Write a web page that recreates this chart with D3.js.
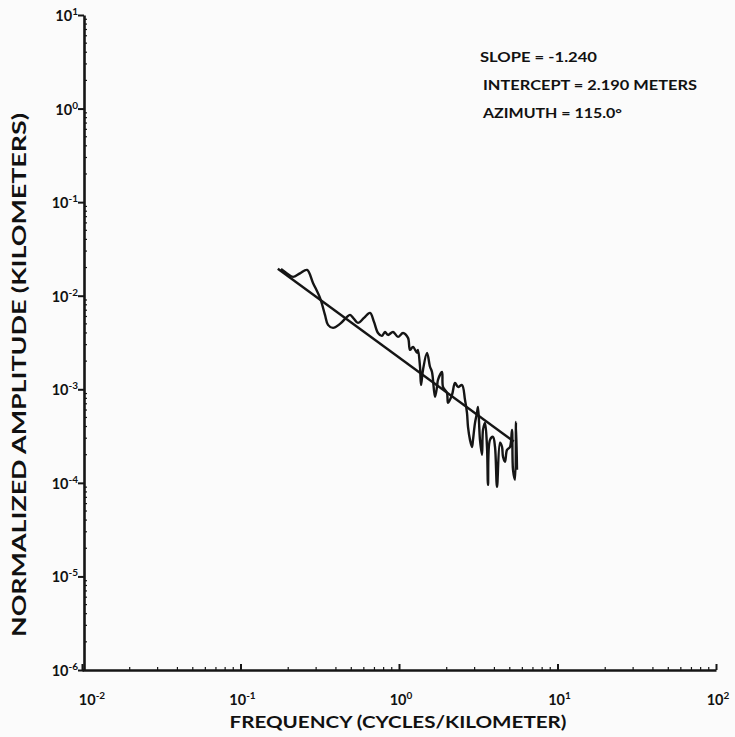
<!DOCTYPE html>
<html>
<head>
<meta charset="utf-8">
<script src="https://cdn.jsdelivr.net/npm/d3@7"></script>
<style>
  html, body { margin: 0; padding: 0; background: #fbfbfb; }
  svg { display: block; }
  text { font-family: Lato, "Noto Sans", "DejaVu Sans", sans-serif; font-weight: 700; fill: #111; }
</style>
</head>
<body>
<svg id="chart" width="735" height="737"></svg>
<script>
// ---- data ----
const xTickValues = [0.01, 0.1, 1, 10, 100];
const xTickExponents = ["-2", "-1", "0", "1", "2"];
const yTickValues = [10, 1, 0.1, 0.01, 0.001, 0.0001, 0.00001, 0.000001];
const yTickExponents = ["1", "0", "-1", "-2", "-3", "-4", "-5", "-6"];

// spectrum curve: frequency (cycles/km) and normalized amplitude (km)
const frequency = [0.180, 0.1965, 0.2144, 0.2373, 0.2628, 0.2867, 0.3174, 0.3412, 0.3565, 0.3834,
  0.4244, 0.4697, 0.4908, 0.5200, 0.5511, 0.6013, 0.6561, 0.6954, 0.7371, 0.7811,
  0.8161, 0.8523, 0.9166, 0.9856, 1.060, 1.140, 1.173, 1.225, 1.299, 1.318,
  1.357, 1.377, 1.417, 1.502, 1.569, 1.615, 1.687, 1.737, 1.762, 1.868,
  1.895, 2.008, 2.038, 2.160, 2.256, 2.356, 2.497, 2.609, 2.685, 2.725,
  2.805, 2.888, 2.930, 3.017, 3.105, 3.151, 3.243, 3.340, 3.388, 3.488,
  3.591, 3.644, 3.751, 3.918, 4.034, 4.153, 4.338, 4.466, 4.532, 4.665,
  4.802, 5.015, 5.163, 5.240, 5.395, 5.472, 5.553];
const amplitude = [0.0193, 0.01732, 0.01589, 0.01732, 0.01886, 0.01371, 0.00947, 0.00624, 0.00488, 0.00453,
  0.00500, 0.00594, 0.00624, 0.00565, 0.00512, 0.00579, 0.00655, 0.00525, 0.00400, 0.00372,
  0.00410, 0.00381, 0.00410, 0.00363, 0.00400, 0.00354, 0.00264, 0.00284, 0.00245, 0.00264,
  0.00174, 0.00111, 0.00161, 0.00245, 0.00174, 0.00153, 0.000830, 0.00106, 0.00126, 0.00153,
  0.00106, 0.000915, 0.000716, 0.000871, 0.00117, 0.00106, 0.00111, 0.000770, 0.000560, 0.000397,
  0.000288, 0.000242, 0.000288, 0.000438, 0.000560, 0.000649, 0.000288, 0.000199, 0.000368, 0.000438,
  0.000242, 0.0000952, 0.000288, 0.000310, 0.000242, 0.0000907, 0.000268, 0.000242, 0.000190, 0.000168,
  0.000225, 0.000242, 0.000368, 0.000138, 0.000108, 0.000448, 0.000138];

// fitted line: amplitude = intercept * f^slope
const fitSlope = -1.240;
const fitIntercept = 0.00219;   // km (2.190 meters)
const fitRange = [0.172, 5.3];

const annotations = ["SLOPE = -1.240", "INTERCEPT = 2.190 METERS", "AZIMUTH = 115.0°"];
const xTitle = "FREQUENCY (CYCLES/KILOMETER)";
const yTitle = "NORMALIZED AMPLITUDE (KILOMETERS)";

// ---- drawing ----
const svg = d3.select("#chart");
const x = d3.scaleLog().domain([0.01, 100]).range([82, 716]);
const y = d3.scaleLog().domain([1e-6, 10]).range([670, 15]);
const ink = "#151515";

// minor ticks
const minorX = [];
for (let d = -2; d < 2; d++) for (let k = 2; k <= 9; k++) minorX.push(k * Math.pow(10, d));
const minorY = [];
for (let d = -6; d < 1; d++) for (let k = 2; k <= 9; k++) minorY.push(k * Math.pow(10, d));

// X axis
const xAxis = d3.axisBottom(x).tickValues(xTickValues).tickSizeInner(-6).tickSizeOuter(0).tickFormat("");
const gx = svg.append("g").attr("transform", `translate(0,${y(1e-6)})`).call(xAxis);
gx.select(".domain").attr("stroke", ink).attr("stroke-width", 2.6);
gx.selectAll(".tick line").attr("stroke", ink).attr("stroke-width", 2);
gx.selectAll(".minor").data(minorX).enter().append("line")
  .attr("x1", d => x(d)).attr("x2", d => x(d)).attr("y1", 0).attr("y2", -3)
  .attr("stroke", ink).attr("stroke-width", 1.2);

// Y axis
const yAxis = d3.axisLeft(y).tickValues(yTickValues).tickSizeInner(6).tickSizeOuter(0).tickFormat("");
const gy = svg.append("g").attr("transform", `translate(${x(0.01) + 2},0)`).call(yAxis);
gy.select(".domain").attr("stroke", ink).attr("stroke-width", 2.6);
gy.selectAll(".tick line").attr("stroke", ink).attr("stroke-width", 2);
gy.selectAll(".minor").data(minorY).enter().append("line")
  .attr("x1", 0).attr("x2", 3).attr("y1", d => y(d)).attr("y2", d => y(d))
  .attr("stroke", ink).attr("stroke-width", 1.2);

// X tick labels
xTickValues.forEach((v, i) => {
  const t = svg.append("text").attr("x", x(v) + (i === 0 ? 10 : 2)).attr("y", 705)
    .attr("text-anchor", "middle").style("font-size", "14.5px");
  t.append("tspan").text("10");
  t.append("tspan").attr("dy", -6).style("font-size", "10px").text(xTickExponents[i]);
});

// Y tick labels
yTickValues.forEach((v, i) => {
  const t = svg.append("text").attr("x", x(0.01) - 4).attr("y", y(v) + 6)
    .attr("text-anchor", "end").style("font-size", "14.5px");
  t.append("tspan").text("10");
  t.append("tspan").attr("dy", -6).style("font-size", "10px").text(yTickExponents[i]);
});

// fit line
const fitPts = fitRange.map(f => [f, fitIntercept * Math.pow(f, fitSlope)]);
svg.append("path").datum(fitPts)
  .attr("d", d3.line().x(d => x(d[0])).y(d => y(d[1])))
  .attr("fill", "none").attr("stroke", ink).attr("stroke-width", 2.4);

// spectrum curve
const pts = frequency.map((f, i) => [f, amplitude[i]]);
svg.append("path").datum(pts)
  .attr("d", d3.line().x(d => x(d[0])).y(d => y(d[1])).curve(d3.curveCatmullRom.alpha(0.5)))
  .attr("fill", "none").attr("stroke", ink).attr("stroke-width", 2.4)
  .attr("stroke-linejoin", "round");

// annotations
const annX = [480, 483, 483];
const annY = [62, 90, 118];
const annW = [117, 214, 139];
annotations.forEach((s, i) => {
  svg.append("text").attr("x", annX[i]).attr("y", annY[i])
    .attr("textLength", annW[i]).attr("lengthAdjust", "spacingAndGlyphs")
    .style("font-size", "13px").text(s);
});

// axis titles
svg.append("text").attr("x", 398).attr("y", 728).attr("text-anchor", "middle")
  .attr("textLength", 337).attr("lengthAdjust", "spacingAndGlyphs")
  .style("font-size", "17px").text(xTitle);
svg.append("text").attr("transform", "translate(26,375) rotate(-90)").attr("text-anchor", "middle")
  .attr("textLength", 524).attr("lengthAdjust", "spacingAndGlyphs")
  .style("font-size", "19px").text(yTitle);
</script>
</body>
</html>
